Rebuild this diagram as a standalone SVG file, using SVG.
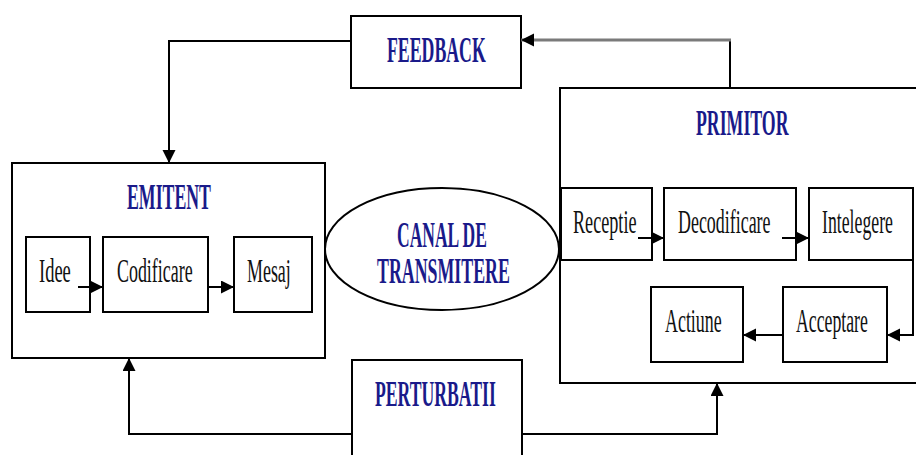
<svg xmlns="http://www.w3.org/2000/svg" width="916" height="455" viewBox="0 0 916 455">
<style>
.box{fill:#fff;stroke:#000;stroke-width:2}
.ttl{font-family:"Liberation Serif","DejaVu Serif",serif;font-weight:bold;font-size:35px;fill:#1a1a8a}
.lbl{font-family:"Liberation Serif","DejaVu Serif",serif;font-size:33px;fill:#111}
.ln{fill:none;stroke:#000;stroke-width:2}
.gr{fill:none;stroke:#7a7a7a;stroke-width:3}
</style>
<defs>
<marker id="ah" markerUnits="userSpaceOnUse" markerWidth="16" markerHeight="14" refX="13" refY="6.5" orient="auto">
<path d="M0,0 L13,6.5 L0,13 Z" fill="#000"/>
</marker>
</defs>
<rect width="916" height="455" fill="#fff"/>
<g id="feedback">
<rect class="box" x="351" y="16" width="170" height="72"/>
<text class="ttl" transform="translate(387,62) scale(0.508,1)">FEEDBACK</text>
</g>
<g id="emitent">
<rect class="box" x="12" y="163" width="313" height="195"/>
<text class="ttl" transform="translate(127,209) scale(0.508,1)">EMITENT</text>
</g>
<g id="idee">
<rect class="box" x="26" y="237" width="64" height="75"/>
<text class="lbl" transform="translate(39,282) scale(0.56,1)">Idee</text>
</g>
<g id="codificare">
<rect class="box" x="103" y="237" width="105" height="75"/>
<text class="lbl" transform="translate(117,282) scale(0.543,1)">Codificare</text>
</g>
<g id="mesaj">
<rect class="box" x="234" y="237" width="78" height="75"/>
<text class="lbl" transform="translate(247,282) scale(0.543,1)">Mesaj</text>
</g>
<g id="canal">
<ellipse class="box" cx="442" cy="249" rx="117" ry="61"/>
<text class="ttl" transform="translate(397,247) scale(0.5,1)">CANAL DE</text>
<text class="ttl" transform="translate(377,283) scale(0.51,1)">TRANSMITERE</text>
</g>
<g id="primitor">
<rect class="box" x="560" y="88" width="370" height="295"/>
<text class="ttl" transform="translate(696,135) scale(0.508,1)">PRIMITOR</text>
</g>
<g id="receptie">
<rect class="box" x="561" y="188" width="91" height="72"/>
<text class="lbl" transform="translate(573,233) scale(0.55,1)">Receptie</text>
</g>
<g id="decodificare">
<rect class="box" x="664" y="188" width="132" height="72"/>
<text class="lbl" transform="translate(678,233) scale(0.543,1)">Decodificare</text>
</g>
<g id="intelegere">
<rect class="box" x="809" y="188" width="104" height="72"/>
<text class="lbl" transform="translate(822,233) scale(0.538,1)">Intelegere</text>
</g>
<g id="actiune">
<rect class="box" x="651" y="287" width="92" height="75"/>
<text class="lbl" transform="translate(665,332) scale(0.543,1)">Actiune</text>
</g>
<g id="acceptare">
<rect class="box" x="783" y="287" width="104" height="75"/>
<text class="lbl" transform="translate(796,332) scale(0.538,1)">Acceptare</text>
</g>
<g id="perturbatii">
<rect class="box" x="352" y="360" width="170" height="110"/>
<text class="ttl" transform="translate(375,406) scale(0.505,1)">PERTURBATII</text>
</g>
<g id="connectors">
<path class="ln" d="M351,41 H169 V163" marker-end="url(#ah)"/>
<path class="ln" d="M730,88 V39"/>
<path class="gr" d="M731,40 H521" marker-end="url(#ah)"/>
<path class="ln" d="M352,434 H129 V358" marker-end="url(#ah)"/>
<path class="ln" d="M522,434 H717 V383" marker-end="url(#ah)"/>
<path class="ln" d="M78,287 H103" marker-end="url(#ah)"/>
<path class="ln" d="M208,287 H234" marker-end="url(#ah)"/>
<path class="ln" d="M638,238 H664" marker-end="url(#ah)"/>
<path class="ln" d="M782,238 H809" marker-end="url(#ah)"/>
<path class="ln" d="M913,260 V335 H887" marker-end="url(#ah)"/>
<path class="ln" d="M783,335 H743" marker-end="url(#ah)"/>
</g>
</svg>
